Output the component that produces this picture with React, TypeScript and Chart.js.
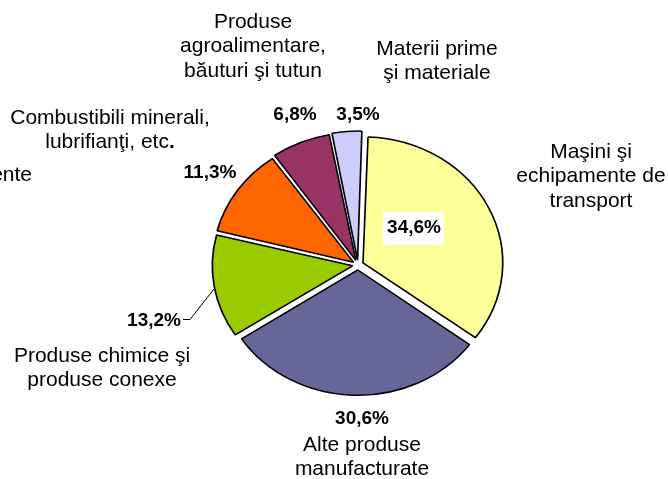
import { useEffect, useRef } from "react";
import { Chart, registerables } from "chart.js";

Chart.register(...registerables);

const categories = [
  "Maşini şi echipamente de transport",
  "Alte produse manufacturate",
  "Produse chimice şi produse conexe",
  "Combustibili minerali, lubrifianţi, etc.",
  "Produse agroalimentare, băuturi şi tutun",
  "Materii prime şi materiale",
];
const shares = [34.6, 30.6, 13.2, 11.3, 6.8, 3.5];
const colors = ["#FFFF99", "#666699", "#99CC00", "#FF6600", "#993366", "#CCCCFF"];
const categoryLines = [
  ["Maşini şi", "echipamente de", "transport"],
  ["Alte produse", "manufacturate"],
  ["Produse chimice şi", "produse conexe"],
  ["Combustibili minerali,", "lubrifianţi, etc."],
  ["Produse", "agroalimentare,", "băuturi şi tutun"],
  ["Materii prime", "şi materiale"],
];

// layout (label anchors, not data)
const namePos = [
  [591, 152],
  [362, 445],
  [102, 356],
  [110, 118],
  [253, 22],
  [437, 49],
];
const pctPos = [
  [414, 228],
  [362, 419],
  [154, 321],
  [210, 173],
  [295, 115],
  [358, 115],
];
const LINE_H = 24.5;
const SX = 1.11;
const FONT = '"Liberation Sans", Arial, sans-serif';

const fmt = (v: number) => v.toFixed(1).replace(".", ",") + "%";

export default function App() {
  const ref = useRef<HTMLCanvasElement | null>(null);
  useEffect(() => {
    if (!ref.current) return;
    const ellipse = {
      id: "ellipse",
      beforeDatasetsDraw(chart: any) {
        const a = chart.getDatasetMeta(0).data[0];
        const ctx = chart.ctx;
        ctx.save();
        ctx.translate(a.x, a.y);
        ctx.scale(SX, 1);
        ctx.translate(-a.x, -a.y);
      },
      afterDatasetsDraw(chart: any) {
        chart.ctx.restore();
      },
    };
    const labels = {
      id: "labels",
      afterDraw(chart: any) {
        const ctx = chart.ctx as CanvasRenderingContext2D;
        ctx.save();
        ctx.textBaseline = "middle";
        ctx.fillStyle = "#000";
        const reg = `21px ${FONT}`;
        const bold = `bold 21px ${FONT}`;
        categoryLines.forEach((lines, i) => {
          const [x, y] = namePos[i];
          lines.forEach((l, j) => {
            const yy = y + j * LINE_H;
            if (l.endsWith("etc.")) {
              // final period drawn bold, as in the original
              const body = l.slice(0, -1);
              ctx.font = reg;
              const w1 = ctx.measureText(body).width;
              ctx.font = bold;
              const w2 = ctx.measureText(".").width;
              const x0 = x - (w1 + w2) / 2;
              ctx.textAlign = "left";
              ctx.font = reg;
              ctx.fillText(body, x0, yy);
              ctx.font = bold;
              ctx.fillText(".", x0 + w1, yy);
            } else {
              ctx.font = reg;
              ctx.textAlign = "center";
              ctx.fillText(l, x, yy);
            }
          });
        });
        ctx.font = reg;
        ctx.textAlign = "right";
        ctx.fillText("ente", 32, 175);
        // white box behind first percentage
        ctx.fillStyle = "#fff";
        ctx.fillRect(383, 212, 61, 33);
        ctx.fillStyle = "#000";
        ctx.textAlign = "center";
        ctx.font = `bold 19px ${FONT}`;
        shares.forEach((v, i) => {
          const [x, y] = pctPos[i];
          ctx.fillText(fmt(v), x, y);
        });
        // leader line for 13,2%
        ctx.strokeStyle = "#000";
        ctx.lineWidth = 1;
        ctx.beginPath();
        ctx.moveTo(183, 319.5);
        ctx.lineTo(190, 319.5);
        ctx.lineTo(214, 289);
        ctx.stroke();
        ctx.restore();
      },
    };
    const chart = new Chart(ref.current, {
      type: "pie",
      data: {
        labels: categories,
        datasets: [
          {
            data: shares,
            backgroundColor: colors,
            borderColor: "#000",
            borderWidth: 1.5,
            offset: 20,
            hoverOffset: 0,
          },
        ],
      },
      options: {
        responsive: false,
        animation: false,
        radius: 125,
        rotation: 2,
        layout: { padding: { left: 48, right: 0, top: 51, bottom: 0 } },
        plugins: { legend: { display: false }, tooltip: { enabled: false } },
        events: [],
      } as any,
      plugins: [ellipse, labels],
    });
    return () => chart.destroy();
  }, []);
  return (
    <div style={{ position: "fixed", left: 0, top: 0, width: 668, height: 479, background: "#fff" }}>
      <canvas ref={ref} width={668} height={479} style={{ display: "block" }} />
    </div>
  );
}
